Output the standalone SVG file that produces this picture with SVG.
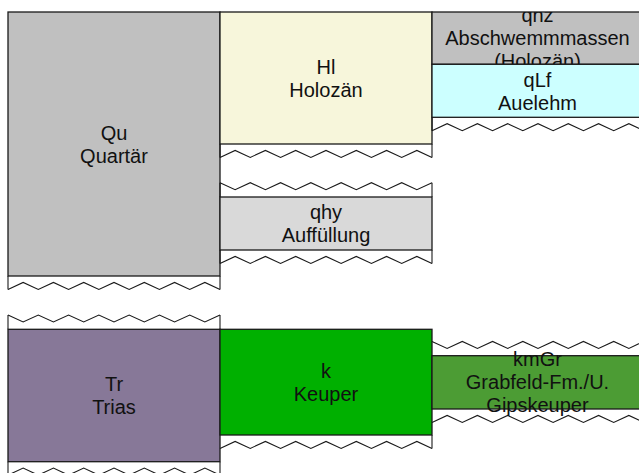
<svg xmlns="http://www.w3.org/2000/svg" xmlns:xlink="http://www.w3.org/1999/xlink" width="639" height="473" viewBox="0 0 639 473">
<style>
.box{stroke:#1a1a1a;stroke-width:1.3}
.lbl{font-family:"Liberation Sans",Arial,sans-serif;font-size:20px;fill:#111;text-anchor:middle}
.zz{fill:none;stroke:#1a1a1a;stroke-width:1.1;stroke-linejoin:miter}
.edge{stroke:#1a1a1a;stroke-width:1.1}
</style>
<defs>
<path id="zzB" d="M0,7 L15.14,0 L30.29,7 L45.43,0 L60.57,7 L75.71,0 L90.86,7 L106,0 L121.14,7 L136.29,0 L151.43,7 L166.57,0 L181.71,7 L196.86,0 L212,7"/>
<path id="zzT" d="M0,0 L15.14,7 L30.29,0 L45.43,7 L60.57,0 L75.71,7 L90.86,0 L106,7 L121.14,0 L136.29,7 L151.43,0 L166.57,7 L181.71,0 L196.86,7 L212,0"/>
<clipPath id="clipQhz"><rect x="432" y="12" width="215" height="52.3"/></clipPath>
</defs>
<rect width="639" height="473" fill="#fff"/>

<g id="Qu">
<rect class="box" x="8" y="12" width="212" height="264" fill="#c0c0c0"/>
<text class="lbl" x="114" y="139.5">Qu</text>
<text class="lbl" x="114" y="162.5">Quartär</text>
</g>

<g id="Hl">
<rect class="box" x="220" y="12" width="212" height="132" fill="#f7f6db"/>
<text class="lbl" x="326" y="73.5">Hl</text>
<text class="lbl" x="326" y="96.5">Holozän</text>
</g>

<g id="qhz">
<rect class="box" x="432" y="12" width="215" height="52.3" fill="#c0c0c0"/>
<g clip-path="url(#clipQhz)">
<text class="lbl" x="537.5" y="22.2">qhz</text>
<text class="lbl" x="537.5" y="45.2">Abschwemmmassen</text>
<text class="lbl" x="537.5" y="68.2">(Holozän)</text>
</g>
</g>

<g id="qLf">
<rect class="box" x="432" y="64.3" width="215" height="53" fill="#ccffff"/>
<text class="lbl" x="537.5" y="86.5">qLf</text>
<text class="lbl" x="537.5" y="109.5">Auelehm</text>
</g>

<g id="qhy">
<rect class="box" x="220" y="197" width="212" height="53" fill="#d9d9d9"/>
<text class="lbl" x="326" y="219">qhy</text>
<text class="lbl" x="326" y="242">Auffüllung</text>
</g>

<g id="Tr">
<rect class="box" x="8" y="329.3" width="212" height="132.4" fill="#877898"/>
<text class="lbl" x="114" y="391">Tr</text>
<text class="lbl" x="114" y="414">Trias</text>
</g>

<g id="k">
<rect class="box" x="220" y="329.3" width="212" height="105.7" fill="#00b000"/>
<text class="lbl" x="326" y="377.6">k</text>
<text class="lbl" x="326" y="400.6">Keuper</text>
</g>

<g id="kmGr">
<rect class="box" x="432" y="355.7" width="215" height="53.3" fill="#4c9c34"/>
<text class="lbl" x="537.5" y="366.3">kmGr</text>
<text class="lbl" x="537.5" y="389.3">Grabfeld-Fm./U.</text>
<text class="lbl" x="537.5" y="412.3">Gipskeuper</text>
</g>

<g id="breaks">
<use class="zz" xlink:href="#zzB" href="#zzB" transform="translate(8,282.4)"/>
<line class="edge" x1="8" y1="276" x2="8" y2="289.4"/>
<line class="edge" x1="220" y1="276" x2="220" y2="289.4"/>

<use class="zz" xlink:href="#zzB" href="#zzB" transform="translate(220,150.4)"/>
<line class="edge" x1="220" y1="144" x2="220" y2="157.4"/>
<line class="edge" x1="432" y1="144" x2="432" y2="157.4"/>

<use class="zz" xlink:href="#zzT" href="#zzT" transform="translate(220,182.7)"/>
<line class="edge" x1="220" y1="182.7" x2="220" y2="197"/>
<line class="edge" x1="432" y1="182.7" x2="432" y2="197"/>

<use class="zz" xlink:href="#zzB" href="#zzB" transform="translate(220,256.4)"/>
<line class="edge" x1="220" y1="250" x2="220" y2="263.4"/>
<line class="edge" x1="432" y1="250" x2="432" y2="263.4"/>

<use class="zz" xlink:href="#zzB" href="#zzB" transform="translate(432,123.7)"/>
<line class="edge" x1="432" y1="117.3" x2="432" y2="130.7"/>

<use class="zz" xlink:href="#zzT" href="#zzT" transform="translate(8,315)"/>
<line class="edge" x1="8" y1="315" x2="8" y2="329.3"/>
<line class="edge" x1="220" y1="315" x2="220" y2="329.3"/>

<use class="zz" xlink:href="#zzB" href="#zzB" transform="translate(8,468.1)"/>
<line class="edge" x1="8" y1="461.7" x2="8" y2="475"/>
<line class="edge" x1="220" y1="461.7" x2="220" y2="475"/>

<use class="zz" xlink:href="#zzB" href="#zzB" transform="translate(220,441.4)"/>
<line class="edge" x1="432" y1="435" x2="432" y2="448.4"/>

<use class="zz" xlink:href="#zzT" href="#zzT" transform="translate(432,341.4)"/>
<use class="zz" xlink:href="#zzB" href="#zzB" transform="translate(432,415.4)"/>
</g>
</svg>
